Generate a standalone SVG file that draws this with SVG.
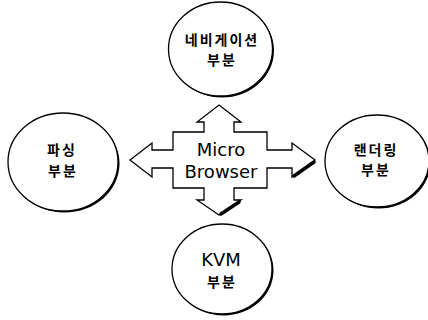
<svg xmlns="http://www.w3.org/2000/svg" width="428" height="320" viewBox="0 0 428 320">
<style>
.bg{fill:#fff}
.sh{fill:#000}
.node{fill:#fff;stroke:#000;stroke-width:1.3}
.ko{font-family:"Noto Sans CJK KR","Noto Sans",sans-serif;font-size:14px;font-weight:700;fill:#000;text-anchor:middle;letter-spacing:2px}
.en{font-family:"DejaVu Sans","Liberation Sans",sans-serif;font-size:18px;fill:#000;text-anchor:middle}
.cross{fill:#fff;stroke:#000;stroke-width:1.3;stroke-linejoin:miter}
.thick{fill:none;stroke:#000;stroke-width:3.5;stroke-linecap:round}
</style>
<rect class="bg" x="0" y="0" width="428" height="320"/>
<g id="connectors">
<path class="cross" d="M219,105 L241,122 L234,122 L234,132 L267,132 L267,150 L292,150 L292,143 L315,160 L292,177 L292,168 L267,168 L267,188 L234,188 L234,200 L241,200 L219,215 L197,200 L204,200 L204,188 L173,188 L173,168 L152,168 L152,177 L130,160 L152,143 L152,150 L173,150 L173,132 L204,132 L204,122 L197,122 Z"/>
<path class="thick" d="M314,162 L294,176"/>
<path class="thick" d="M221,214 L239,202"/>
</g>
<g id="center">
<text class="en" x="221" y="156">Micro</text>
<text class="en" x="221" y="178">Browser</text>
</g>
<g id="nav">
<ellipse class="sh" cx="222" cy="50.5" rx="52" ry="47"/>
<ellipse class="node" cx="220.5" cy="49" rx="52" ry="47"/>
<text class="ko" x="222" y="45">네비게이션</text>
<text class="ko" x="222" y="65">부분</text>
</g>
<g id="parse">
<ellipse class="sh" cx="64.5" cy="163.5" rx="55" ry="49"/>
<ellipse class="node" cx="63" cy="162" rx="55" ry="49"/>
<text class="ko" x="62" y="155">파싱</text>
<text class="ko" x="63" y="176">부분</text>
</g>
<g id="render">
<ellipse class="sh" cx="378.5" cy="162.5" rx="52" ry="46"/>
<ellipse class="node" cx="377" cy="161" rx="52" ry="46"/>
<text class="ko" x="376" y="155">랜더링</text>
<text class="ko" x="376" y="175">부분</text>
</g>
<g id="kvm">
<ellipse class="sh" cx="223.5" cy="270.5" rx="50" ry="45"/>
<ellipse class="node" cx="222" cy="269" rx="50" ry="45"/>
<text class="en" x="221" y="266">KVM</text>
<text class="ko" x="222" y="287">부분</text>
</g>
</svg>
